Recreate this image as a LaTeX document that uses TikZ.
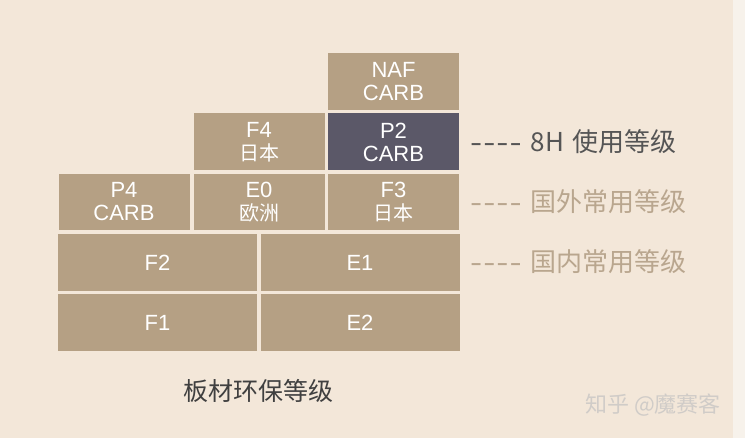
\documentclass[tikz,border=0pt]{standalone}
\usepackage{fontspec}
\setmainfont{Liberation Sans}
\newfontfamily\cjk{Noto Sans CJK SC}
\usetikzlibrary{positioning}
\definecolor{paper}{RGB}{243,231,217}
\definecolor{paperedge}{RGB}{247,242,235}
\definecolor{wood}{RGB}{181,160,132}
\definecolor{slate}{RGB}{91,88,104}
\definecolor{inktext}{RGB}{85,85,85}
\definecolor{woodtext}{RGB}{185,166,142}
\definecolor{marktext}{RGB}{208,204,200}
\newcommand{\dashbit}{\scalebox{1.4}[1]{-}}
\newcommand{\dashrun}{{\rmfamily\dashbit\kern1pt\dashbit\kern1pt\dashbit\kern1pt\dashbit}\hspace{9pt}}

\begin{document}
\begin{tikzpicture}[x=1pt,y=-1pt]
    \tikzstyle{grade}=[rectangle,fill=wood,text=white,inner sep=0pt,minimum height=57pt,align=center,font=\fontsize{22}{23}\selectfont]
    \tikzstyle{half}=[grade,minimum width=131pt]
    \tikzstyle{wide}=[grade,minimum width=199pt]
    \tikzstyle{legend}=[anchor=west,inner sep=0pt,font=\cjk\fontsize{26}{30}\selectfont]
    \fill[paper] (0,0) rectangle (745,438);
    \fill[paperedge] (733,0) rectangle (745,438);
    % grades, top to bottom
    \node[half] (naf) at (393.5,82) {NAF\\CARB};
    \node[half] (f4) at (259,142) {F4\\{\cjk\fontsize{20}{23}\selectfont 日本}};
    \node[half,fill=slate] (p2) at (393.5,142) {P2\\CARB};
    \node[half,minimum height=56pt] (p4) at (124,202) {P4\\CARB};
    \node[half,minimum height=56pt] (e0) at (259,202) {E0\\{\cjk\fontsize{20}{23}\selectfont 欧洲}};
    \node[half,minimum height=56pt] (f3) at (393.5,202) {F3\\{\cjk\fontsize{20}{23}\selectfont 日本}};
    \node[wide] (f2) at (157.5,263) {F2};
    \node[wide] (e1) at (360,263) {E1};
    \node[wide] (f1) at (157.5,323) {F1};
    \node[wide] (e2) at (360,323) {E2};
    % legend
    \node[legend,text=inktext] (use) at (470,142) {\dashrun 8H\hspace{8pt}使用等级};
    \node[legend,text=woodtext] (abroad) at (470,202) {\dashrun 国外常用等级};
    \node[legend,text=woodtext] (home) at (470,262) {\dashrun 国内常用等级};
    \node[font=\cjk\fontsize{25}{28}\selectfont,text=black!75] (title) at (258,391) {板材环保等级};
    \node[anchor=west,inner sep=0pt,font=\cjk\fontsize{22}{24}\selectfont,text=marktext] (mark) at (585,405) {知乎 @魔赛客};
\end{tikzpicture}
\end{document}
